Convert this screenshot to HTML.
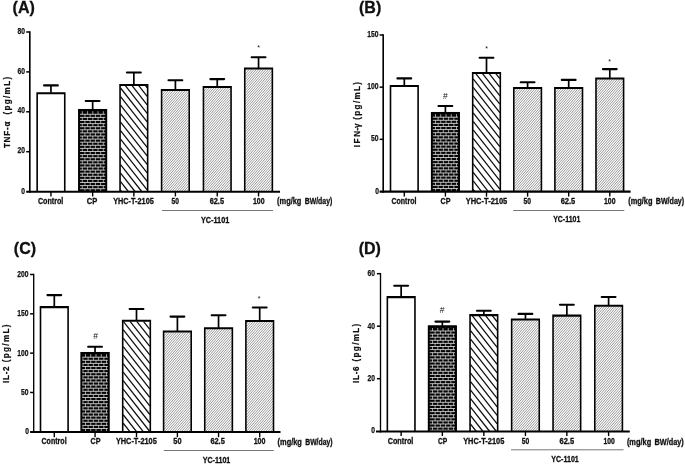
<!DOCTYPE html>
<html><head><meta charset="utf-8"><title>Figure</title>
<style>html,body{margin:0;padding:0;background:#fff;}body{width:685px;height:464px;overflow:hidden;font-family:"Liberation Sans",sans-serif;}svg{display:block;}svg{filter:grayscale(1);}text{font-family:"Liberation Sans",sans-serif;fill:#111;}</style>
</head><body>
<svg width="685" height="464" viewBox="0 0 685 464">
<rect width="685" height="464" fill="#fff"/>
<g id="panelA">
<text x="12.60" y="12.70" font-size="16" font-weight="bold" fill="#000" stroke="#000" stroke-width="0.28">(A)</text>
<path fill-rule="evenodd" fill="#000" d="M36.35 92.17H65.55V191.75H36.35ZM37.95 94.22H63.95V191.75H37.95Z"/>
<path d="M50.95 92.67V85.40" stroke="#000" stroke-width="1.7" fill="none"/>
<path d="M44.05 85.40H57.85" stroke="#000" stroke-width="2.1" fill="none" stroke-linecap="round"/>
<path d="M50.95 191.75V196.45" stroke="#000" stroke-width="1.4"/>
<rect x="78.20" y="108.97" width="28.90" height="82.78" fill="#060606"/>
<path d="M79.80 114.30H105.50M79.80 117.40H105.50M79.80 120.50H105.50M79.80 123.60H105.50M79.80 126.70H105.50M79.80 129.80H105.50M79.80 132.90H105.50M79.80 136.00H105.50M79.80 139.10H105.50M79.80 142.20H105.50M79.80 145.30H105.50M79.80 148.40H105.50M79.80 151.50H105.50M79.80 154.60H105.50M79.80 157.70H105.50M79.80 160.80H105.50M79.80 163.90H105.50M79.80 167.00H105.50M79.80 170.10H105.50M79.80 173.20H105.50M79.80 176.30H105.50M79.80 179.40H105.50M79.80 182.50H105.50M79.80 185.60H105.50M79.80 188.70H105.50" stroke="#fff" stroke-width="0.72" fill="none"/>
<path d="M82.30 111.20V114.30M87.55 111.20V114.30M92.80 111.20V114.30M98.05 111.20V114.30M103.30 111.20V114.30M84.92 114.30V117.40M90.17 114.30V117.40M95.42 114.30V117.40M100.67 114.30V117.40M82.30 117.40V120.50M87.55 117.40V120.50M92.80 117.40V120.50M98.05 117.40V120.50M103.30 117.40V120.50M84.92 120.50V123.60M90.17 120.50V123.60M95.42 120.50V123.60M100.67 120.50V123.60M82.30 123.60V126.70M87.55 123.60V126.70M92.80 123.60V126.70M98.05 123.60V126.70M103.30 123.60V126.70M84.92 126.70V129.80M90.17 126.70V129.80M95.42 126.70V129.80M100.67 126.70V129.80M82.30 129.80V132.90M87.55 129.80V132.90M92.80 129.80V132.90M98.05 129.80V132.90M103.30 129.80V132.90M84.92 132.90V136.00M90.17 132.90V136.00M95.42 132.90V136.00M100.67 132.90V136.00M82.30 136.00V139.10M87.55 136.00V139.10M92.80 136.00V139.10M98.05 136.00V139.10M103.30 136.00V139.10M84.92 139.10V142.20M90.17 139.10V142.20M95.42 139.10V142.20M100.67 139.10V142.20M82.30 142.20V145.30M87.55 142.20V145.30M92.80 142.20V145.30M98.05 142.20V145.30M103.30 142.20V145.30M84.92 145.30V148.40M90.17 145.30V148.40M95.42 145.30V148.40M100.67 145.30V148.40M82.30 148.40V151.50M87.55 148.40V151.50M92.80 148.40V151.50M98.05 148.40V151.50M103.30 148.40V151.50M84.92 151.50V154.60M90.17 151.50V154.60M95.42 151.50V154.60M100.67 151.50V154.60M82.30 154.60V157.70M87.55 154.60V157.70M92.80 154.60V157.70M98.05 154.60V157.70M103.30 154.60V157.70M84.92 157.70V160.80M90.17 157.70V160.80M95.42 157.70V160.80M100.67 157.70V160.80M82.30 160.80V163.90M87.55 160.80V163.90M92.80 160.80V163.90M98.05 160.80V163.90M103.30 160.80V163.90M84.92 163.90V167.00M90.17 163.90V167.00M95.42 163.90V167.00M100.67 163.90V167.00M82.30 167.00V170.10M87.55 167.00V170.10M92.80 167.00V170.10M98.05 167.00V170.10M103.30 167.00V170.10M84.92 170.10V173.20M90.17 170.10V173.20M95.42 170.10V173.20M100.67 170.10V173.20M82.30 173.20V176.30M87.55 173.20V176.30M92.80 173.20V176.30M98.05 173.20V176.30M103.30 173.20V176.30M84.92 176.30V179.40M90.17 176.30V179.40M95.42 176.30V179.40M100.67 176.30V179.40M82.30 179.40V182.50M87.55 179.40V182.50M92.80 179.40V182.50M98.05 179.40V182.50M103.30 179.40V182.50M84.92 182.50V185.60M90.17 182.50V185.60M95.42 182.50V185.60M100.67 182.50V185.60M82.30 185.60V188.70M87.55 185.60V188.70M92.80 185.60V188.70M98.05 185.60V188.70M103.30 185.60V188.70M84.92 188.70V191.75M90.17 188.70V191.75M95.42 188.70V191.75M100.67 188.70V191.75" stroke="#fff" stroke-width="0.6" fill="none"/>
<path fill-rule="evenodd" fill="#000" d="M78.20 108.97H107.10V191.75H78.20ZM79.80 111.02H105.50V191.75H79.80Z"/>
<path d="M92.65 109.47V101.00" stroke="#000" stroke-width="1.7" fill="none"/>
<path d="M85.75 101.00H99.55" stroke="#000" stroke-width="2.1" fill="none" stroke-linecap="round"/>
<path d="M92.65 191.75V196.45" stroke="#000" stroke-width="1.4"/>
<path d="M120.55 190.13L121.82 191.75M120.55 181.62L128.52 191.75M120.55 173.11L135.22 191.75M120.55 164.60L141.92 191.75M120.55 156.10L147.15 189.88M120.55 147.59L147.15 181.37M120.55 139.08L147.15 172.86M120.55 130.57L147.15 164.35M120.55 122.06L147.15 155.84M120.55 113.55L147.15 147.33M120.55 105.04L147.15 138.82M120.55 96.53L147.15 130.31M120.55 88.02L147.15 121.81M125.36 85.62L147.15 113.30M132.06 85.62L147.15 104.79M138.76 85.62L147.15 96.28M145.46 85.62L147.15 87.77" stroke="#111" stroke-width="1.28" fill="none"/>
<path fill-rule="evenodd" fill="#000" d="M119.25 83.88H148.45V191.75H119.25ZM120.85 85.92H146.85V191.75H120.85Z"/>
<path d="M133.85 84.38V72.50" stroke="#000" stroke-width="1.7" fill="none"/>
<path d="M126.95 72.50H140.75" stroke="#000" stroke-width="2.1" fill="none" stroke-linecap="round"/>
<path d="M133.85 191.75V196.45" stroke="#000" stroke-width="1.4"/>
<rect x="161.30" y="89.47" width="28.20" height="102.28" fill="#ffffff"/>
<path d="M162.10 92.34L163.51 90.72M162.10 95.10L165.91 90.72M162.10 97.86L168.31 90.72M162.10 100.62L170.71 90.72M162.10 103.38L173.11 90.72M162.10 106.14L175.51 90.72M162.10 108.91L177.91 90.72M162.10 111.66L180.31 90.72M162.10 114.42L182.71 90.72M162.10 117.19L185.11 90.72M162.10 119.94L187.51 90.72M162.10 122.71L188.70 92.11M162.10 125.46L188.70 94.87M162.10 128.22L188.70 97.63M162.10 130.98L188.70 100.39M162.10 133.74L188.70 103.15M162.10 136.50L188.70 105.91M162.10 139.26L188.70 108.67M162.10 142.02L188.70 111.43M162.10 144.78L188.70 114.19M162.10 147.54L188.70 116.95M162.10 150.31L188.70 119.71M162.10 153.06L188.70 122.47M162.10 155.82L188.70 125.23M162.10 158.58L188.70 127.99M162.10 161.34L188.70 130.75M162.10 164.11L188.70 133.51M162.10 166.86L188.70 136.27M162.10 169.62L188.70 139.03M162.10 172.38L188.70 141.79M162.10 175.14L188.70 144.55M162.10 177.91L188.70 147.31M162.10 180.66L188.70 150.07M162.10 183.42L188.70 152.83M162.10 186.19L188.70 155.59M162.10 188.94L188.70 158.35M162.10 191.71L188.70 161.11M164.46 191.75L188.70 163.87M166.86 191.75L188.70 166.63M169.26 191.75L188.70 169.39M171.66 191.75L188.70 172.15M174.06 191.75L188.70 174.91M176.46 191.75L188.70 177.67M178.86 191.75L188.70 180.43M181.26 191.75L188.70 183.19M183.66 191.75L188.70 185.95M186.06 191.75L188.70 188.71M188.46 191.75L188.70 191.47" stroke="#484848" stroke-width="0.56" fill="none"/>
<path fill-rule="evenodd" fill="#000" d="M160.80 88.97H190.00V191.75H160.80ZM162.40 91.02H188.40V191.75H162.40Z"/>
<path d="M175.40 89.47V80.30" stroke="#000" stroke-width="1.7" fill="none"/>
<path d="M168.50 80.30H182.30" stroke="#000" stroke-width="2.1" fill="none" stroke-linecap="round"/>
<path d="M175.40 191.75V196.45" stroke="#000" stroke-width="1.4"/>
<rect x="203.15" y="86.47" width="28.20" height="105.28" fill="#ffffff"/>
<path d="M203.95 88.38L204.52 87.72M203.95 91.14L206.92 87.72M203.95 93.90L209.32 87.72M203.95 96.66L211.72 87.72M203.95 99.42L214.12 87.72M203.95 102.18L216.52 87.72M203.95 104.94L218.92 87.72M203.95 107.70L221.32 87.72M203.95 110.46L223.72 87.72M203.95 113.22L226.12 87.72M203.95 115.98L228.52 87.72M203.95 118.74L230.55 88.15M203.95 121.50L230.55 90.91M203.95 124.26L230.55 93.67M203.95 127.02L230.55 96.43M203.95 129.78L230.55 99.19M203.95 132.54L230.55 101.95M203.95 135.30L230.55 104.71M203.95 138.06L230.55 107.47M203.95 140.82L230.55 110.23M203.95 143.58L230.55 112.99M203.95 146.34L230.55 115.75M203.95 149.10L230.55 118.51M203.95 151.86L230.55 121.27M203.95 154.62L230.55 124.03M203.95 157.38L230.55 126.79M203.95 160.14L230.55 129.55M203.95 162.90L230.55 132.31M203.95 165.66L230.55 135.07M203.95 168.42L230.55 137.83M203.95 171.18L230.55 140.59M203.95 173.94L230.55 143.35M203.95 176.70L230.55 146.11M203.95 179.46L230.55 148.87M203.95 182.22L230.55 151.63M203.95 184.98L230.55 154.39M203.95 187.74L230.55 157.15M203.95 190.50L230.55 159.91M205.26 191.75L230.55 162.67M207.66 191.75L230.55 165.43M210.06 191.75L230.55 168.19M212.46 191.75L230.55 170.95M214.86 191.75L230.55 173.71M217.26 191.75L230.55 176.47M219.66 191.75L230.55 179.23M222.06 191.75L230.55 181.99M224.46 191.75L230.55 184.75M226.86 191.75L230.55 187.51M229.26 191.75L230.55 190.27" stroke="#484848" stroke-width="0.56" fill="none"/>
<path fill-rule="evenodd" fill="#000" d="M202.65 85.97H231.85V191.75H202.65ZM204.25 88.02H230.25V191.75H204.25Z"/>
<path d="M217.25 86.47V79.10" stroke="#000" stroke-width="1.7" fill="none"/>
<path d="M210.35 79.10H224.15" stroke="#000" stroke-width="2.1" fill="none" stroke-linecap="round"/>
<path d="M217.25 191.75V196.45" stroke="#000" stroke-width="1.4"/>
<rect x="244.45" y="68.07" width="28.20" height="123.68" fill="#ffffff"/>
<path d="M245.25 71.24L246.92 69.32M245.25 74.00L249.32 69.32M245.25 76.76L251.72 69.32M245.25 79.52L254.12 69.32M245.25 82.28L256.52 69.32M245.25 85.04L258.92 69.32M245.25 87.80L261.32 69.32M245.25 90.56L263.72 69.32M245.25 93.32L266.12 69.32M245.25 96.08L268.52 69.32M245.25 98.84L270.92 69.32M245.25 101.60L271.85 71.01M245.25 104.36L271.85 73.77M245.25 107.12L271.85 76.53M245.25 109.88L271.85 79.29M245.25 112.64L271.85 82.05M245.25 115.40L271.85 84.81M245.25 118.16L271.85 87.57M245.25 120.92L271.85 90.33M245.25 123.68L271.85 93.09M245.25 126.44L271.85 95.85M245.25 129.20L271.85 98.61M245.25 131.96L271.85 101.37M245.25 134.72L271.85 104.13M245.25 137.48L271.85 106.89M245.25 140.24L271.85 109.65M245.25 143.00L271.85 112.41M245.25 145.76L271.85 115.17M245.25 148.52L271.85 117.93M245.25 151.28L271.85 120.69M245.25 154.04L271.85 123.45M245.25 156.80L271.85 126.21M245.25 159.56L271.85 128.97M245.25 162.32L271.85 131.73M245.25 165.08L271.85 134.49M245.25 167.84L271.85 137.25M245.25 170.60L271.85 140.01M245.25 173.36L271.85 142.77M245.25 176.12L271.85 145.53M245.25 178.88L271.85 148.29M245.25 181.64L271.85 151.05M245.25 184.40L271.85 153.81M245.25 187.16L271.85 156.57M245.25 189.92L271.85 159.33M246.06 191.75L271.85 162.09M248.46 191.75L271.85 164.85M250.86 191.75L271.85 167.61M253.26 191.75L271.85 170.37M255.66 191.75L271.85 173.13M258.06 191.75L271.85 175.89M260.46 191.75L271.85 178.65M262.86 191.75L271.85 181.41M265.26 191.75L271.85 184.17M267.66 191.75L271.85 186.93M270.06 191.75L271.85 189.69" stroke="#484848" stroke-width="0.56" fill="none"/>
<path fill-rule="evenodd" fill="#000" d="M243.95 67.57H273.15V191.75H243.95ZM245.55 69.62H271.55V191.75H245.55Z"/>
<path d="M258.55 68.07V57.30" stroke="#000" stroke-width="1.7" fill="none"/>
<path d="M251.65 57.30H265.45" stroke="#000" stroke-width="2.1" fill="none" stroke-linecap="round"/>
<path d="M258.55 191.75V196.45" stroke="#000" stroke-width="1.4"/>
<path d="M29.80 31.25V192.80" stroke="#000" stroke-width="1.65" fill="none"/>
<path d="M26.20 191.75H280.00" stroke="#000" stroke-width="2.10" fill="none"/>
<text x="21.15" y="194.10" font-size="8.80" font-weight="bold" textLength="3.75" lengthAdjust="spacingAndGlyphs" stroke="#111" stroke-width="0.25">0</text>
<path d="M26.20 151.70H29.80" stroke="#000" stroke-width="1.5"/>
<text x="17.50" y="153.30" font-size="8.80" font-weight="bold" textLength="7.50" lengthAdjust="spacingAndGlyphs" stroke="#111" stroke-width="0.25">20</text>
<path d="M26.20 111.80H29.80" stroke="#000" stroke-width="1.5"/>
<text x="17.50" y="113.40" font-size="8.80" font-weight="bold" textLength="7.50" lengthAdjust="spacingAndGlyphs" stroke="#111" stroke-width="0.25">40</text>
<path d="M26.20 71.90H29.80" stroke="#000" stroke-width="1.5"/>
<text x="17.50" y="73.50" font-size="8.80" font-weight="bold" textLength="7.50" lengthAdjust="spacingAndGlyphs" stroke="#111" stroke-width="0.25">60</text>
<path d="M26.20 32.00H29.80" stroke="#000" stroke-width="1.5"/>
<text x="17.50" y="33.60" font-size="8.80" font-weight="bold" textLength="7.50" lengthAdjust="spacingAndGlyphs" stroke="#111" stroke-width="0.25">80</text>
<text x="37.90" y="204.20" font-size="8.30" font-weight="bold" textLength="25.40" lengthAdjust="spacingAndGlyphs" stroke="#111" stroke-width="0.3">Control</text>
<text x="86.70" y="204.20" font-size="8.30" font-weight="bold" textLength="10.50" lengthAdjust="spacingAndGlyphs" stroke="#111" stroke-width="0.3">CP</text>
<text x="113.20" y="204.20" font-size="8.30" font-weight="bold" textLength="40.60" lengthAdjust="spacingAndGlyphs" stroke="#111" stroke-width="0.3">YHC-T-2105</text>
<text x="171.60" y="204.20" font-size="8.30" font-weight="bold" textLength="7.40" lengthAdjust="spacingAndGlyphs" stroke="#111" stroke-width="0.3">50</text>
<text x="209.70" y="204.20" font-size="8.30" font-weight="bold" textLength="14.30" lengthAdjust="spacingAndGlyphs" stroke="#111" stroke-width="0.3">62.5</text>
<text x="252.90" y="204.20" font-size="8.30" font-weight="bold" textLength="11.60" lengthAdjust="spacingAndGlyphs" stroke="#111" stroke-width="0.3">100</text>
<text x="277.10" y="204.40" font-size="8.30" font-weight="bold" textLength="24.30" lengthAdjust="spacingAndGlyphs" stroke="#111" stroke-width="0.3">(mg/kg</text>
<text x="304.70" y="204.40" font-size="8.30" font-weight="bold" textLength="27.60" lengthAdjust="spacingAndGlyphs" stroke="#111" stroke-width="0.3">BW/day)</text>
<path d="M162.00 210.50H273.00" stroke="#777" stroke-width="1"/>
<text x="200.90" y="222.70" font-size="8.30" font-weight="bold" textLength="28.40" lengthAdjust="spacingAndGlyphs" stroke="#111" stroke-width="0.3">YC-1101</text>
<text x="258.70" y="49.60" font-size="7" text-anchor="middle" fill="#333">*</text>
<text transform="translate(9.80 148.10) rotate(-90) scale(1,1.14)" font-size="8.1" font-weight="bold" textLength="26.50" lengthAdjust="spacing" stroke="#111" stroke-width="0.2">TNF-α</text>
<text transform="translate(9.80 114.50) rotate(-90) scale(1,1.14)" font-size="8.1" font-weight="bold" textLength="37.60" lengthAdjust="spacing" stroke="#111" stroke-width="0.2">(pg/mL)</text>
</g>
<g id="panelB">
<text x="359.00" y="12.70" font-size="16" font-weight="bold" fill="#000" stroke="#000" stroke-width="0.28">(B)</text>
<path fill-rule="evenodd" fill="#000" d="M389.70 84.88H418.90V191.65H389.70ZM391.30 86.92H417.30V191.65H391.30Z"/>
<path d="M404.30 85.38V78.40" stroke="#000" stroke-width="1.7" fill="none"/>
<path d="M397.40 78.40H411.20" stroke="#000" stroke-width="2.1" fill="none" stroke-linecap="round"/>
<path d="M404.30 191.65V196.60" stroke="#000" stroke-width="1.4"/>
<rect x="430.95" y="111.97" width="28.90" height="79.68" fill="#060606"/>
<path d="M432.55 117.20H458.25M432.55 120.30H458.25M432.55 123.40H458.25M432.55 126.50H458.25M432.55 129.60H458.25M432.55 132.70H458.25M432.55 135.80H458.25M432.55 138.90H458.25M432.55 142.00H458.25M432.55 145.10H458.25M432.55 148.20H458.25M432.55 151.30H458.25M432.55 154.40H458.25M432.55 157.50H458.25M432.55 160.60H458.25M432.55 163.70H458.25M432.55 166.80H458.25M432.55 169.90H458.25M432.55 173.00H458.25M432.55 176.10H458.25M432.55 179.20H458.25M432.55 182.30H458.25M432.55 185.40H458.25M432.55 188.50H458.25" stroke="#fff" stroke-width="0.72" fill="none"/>
<path d="M435.50 114.10V117.20M440.75 114.10V117.20M446.00 114.10V117.20M451.25 114.10V117.20M456.50 114.10V117.20M438.12 117.20V120.30M443.38 117.20V120.30M448.62 117.20V120.30M453.88 117.20V120.30M435.50 120.30V123.40M440.75 120.30V123.40M446.00 120.30V123.40M451.25 120.30V123.40M456.50 120.30V123.40M438.12 123.40V126.50M443.38 123.40V126.50M448.62 123.40V126.50M453.88 123.40V126.50M435.50 126.50V129.60M440.75 126.50V129.60M446.00 126.50V129.60M451.25 126.50V129.60M456.50 126.50V129.60M438.12 129.60V132.70M443.38 129.60V132.70M448.62 129.60V132.70M453.88 129.60V132.70M435.50 132.70V135.80M440.75 132.70V135.80M446.00 132.70V135.80M451.25 132.70V135.80M456.50 132.70V135.80M438.12 135.80V138.90M443.38 135.80V138.90M448.62 135.80V138.90M453.88 135.80V138.90M435.50 138.90V142.00M440.75 138.90V142.00M446.00 138.90V142.00M451.25 138.90V142.00M456.50 138.90V142.00M438.12 142.00V145.10M443.38 142.00V145.10M448.62 142.00V145.10M453.88 142.00V145.10M435.50 145.10V148.20M440.75 145.10V148.20M446.00 145.10V148.20M451.25 145.10V148.20M456.50 145.10V148.20M438.12 148.20V151.30M443.38 148.20V151.30M448.62 148.20V151.30M453.88 148.20V151.30M435.50 151.30V154.40M440.75 151.30V154.40M446.00 151.30V154.40M451.25 151.30V154.40M456.50 151.30V154.40M438.12 154.40V157.50M443.38 154.40V157.50M448.62 154.40V157.50M453.88 154.40V157.50M435.50 157.50V160.60M440.75 157.50V160.60M446.00 157.50V160.60M451.25 157.50V160.60M456.50 157.50V160.60M438.12 160.60V163.70M443.38 160.60V163.70M448.62 160.60V163.70M453.88 160.60V163.70M435.50 163.70V166.80M440.75 163.70V166.80M446.00 163.70V166.80M451.25 163.70V166.80M456.50 163.70V166.80M438.12 166.80V169.90M443.38 166.80V169.90M448.62 166.80V169.90M453.88 166.80V169.90M435.50 169.90V173.00M440.75 169.90V173.00M446.00 169.90V173.00M451.25 169.90V173.00M456.50 169.90V173.00M438.12 173.00V176.10M443.38 173.00V176.10M448.62 173.00V176.10M453.88 173.00V176.10M435.50 176.10V179.20M440.75 176.10V179.20M446.00 176.10V179.20M451.25 176.10V179.20M456.50 176.10V179.20M438.12 179.20V182.30M443.38 179.20V182.30M448.62 179.20V182.30M453.88 179.20V182.30M435.50 182.30V185.40M440.75 182.30V185.40M446.00 182.30V185.40M451.25 182.30V185.40M456.50 182.30V185.40M438.12 185.40V188.50M443.38 185.40V188.50M448.62 185.40V188.50M453.88 185.40V188.50M435.50 188.50V191.60M440.75 188.50V191.60M446.00 188.50V191.60M451.25 188.50V191.60M456.50 188.50V191.60" stroke="#fff" stroke-width="0.6" fill="none"/>
<path fill-rule="evenodd" fill="#000" d="M430.95 111.97H459.85V191.65H430.95ZM432.55 114.02H458.25V191.65H432.55Z"/>
<path d="M445.40 112.47V106.00" stroke="#000" stroke-width="1.7" fill="none"/>
<path d="M438.50 106.00H452.30" stroke="#000" stroke-width="2.1" fill="none" stroke-linecap="round"/>
<path d="M445.40 191.65V196.60" stroke="#000" stroke-width="1.4"/>
<path d="M473.20 189.43L474.95 191.65M473.20 180.92L481.65 191.65M473.20 172.42L488.35 191.65M473.20 163.91L495.05 191.65M473.20 155.40L499.80 189.18M473.20 146.89L499.80 180.67M473.20 138.38L499.80 172.16M473.20 129.87L499.80 163.65M473.20 121.36L499.80 155.14M473.20 112.85L499.80 146.63M473.20 104.34L499.80 138.13M473.20 95.83L499.80 129.62M473.20 87.33L499.80 121.11M473.20 78.82L499.80 112.60M475.81 73.62L499.80 104.09M482.51 73.62L499.80 95.58M489.21 73.62L499.80 87.07M495.91 73.62L499.80 78.56" stroke="#111" stroke-width="1.28" fill="none"/>
<path fill-rule="evenodd" fill="#000" d="M471.90 71.88H501.10V191.65H471.90ZM473.50 73.92H499.50V191.65H473.50Z"/>
<path d="M486.50 72.38V57.80" stroke="#000" stroke-width="1.7" fill="none"/>
<path d="M479.60 57.80H493.40" stroke="#000" stroke-width="2.1" fill="none" stroke-linecap="round"/>
<path d="M486.50 191.65V196.60" stroke="#000" stroke-width="1.4"/>
<rect x="513.50" y="87.38" width="28.20" height="104.28" fill="#ffffff"/>
<path d="M514.30 90.27L515.73 88.62M514.30 93.03L518.13 88.62M514.30 95.79L520.53 88.62M514.30 98.55L522.93 88.62M514.30 101.31L525.33 88.62M514.30 104.07L527.73 88.62M514.30 106.83L530.13 88.62M514.30 109.59L532.53 88.62M514.30 112.35L534.93 88.62M514.30 115.11L537.33 88.62M514.30 117.87L539.73 88.62M514.30 120.63L540.90 90.04M514.30 123.39L540.90 92.81M514.30 126.15L540.90 95.57M514.30 128.91L540.90 98.32M514.30 131.67L540.90 101.08M514.30 134.43L540.90 103.84M514.30 137.19L540.90 106.61M514.30 139.95L540.90 109.37M514.30 142.71L540.90 112.12M514.30 145.47L540.90 114.88M514.30 148.23L540.90 117.64M514.30 150.99L540.90 120.41M514.30 153.75L540.90 123.17M514.30 156.51L540.90 125.92M514.30 159.27L540.90 128.68M514.30 162.03L540.90 131.44M514.30 164.79L540.90 134.21M514.30 167.55L540.90 136.97M514.30 170.31L540.90 139.72M514.30 173.07L540.90 142.48M514.30 175.83L540.90 145.24M514.30 178.59L540.90 148.01M514.30 181.35L540.90 150.77M514.30 184.11L540.90 153.52M514.30 186.87L540.90 156.28M514.30 189.63L540.90 159.04M514.95 191.65L540.90 161.81M517.35 191.65L540.90 164.56M519.75 191.65L540.90 167.32M522.15 191.65L540.90 170.08M524.55 191.65L540.90 172.84M526.95 191.65L540.90 175.61M529.35 191.65L540.90 178.37M531.75 191.65L540.90 181.12M534.15 191.65L540.90 183.88M536.55 191.65L540.90 186.64M538.95 191.65L540.90 189.41" stroke="#484848" stroke-width="0.56" fill="none"/>
<path fill-rule="evenodd" fill="#000" d="M513.00 86.88H542.20V191.65H513.00ZM514.60 88.92H540.60V191.65H514.60Z"/>
<path d="M527.60 87.38V82.20" stroke="#000" stroke-width="1.7" fill="none"/>
<path d="M520.70 82.20H534.50" stroke="#000" stroke-width="2.1" fill="none" stroke-linecap="round"/>
<path d="M527.60 191.65V196.60" stroke="#000" stroke-width="1.4"/>
<rect x="554.60" y="87.38" width="28.20" height="104.28" fill="#ffffff"/>
<path d="M555.40 89.93L556.53 88.62M555.40 92.69L558.93 88.62M555.40 95.45L561.33 88.62M555.40 98.21L563.73 88.62M555.40 100.97L566.13 88.62M555.40 103.73L568.53 88.62M555.40 106.49L570.93 88.62M555.40 109.25L573.33 88.62M555.40 112.01L575.73 88.62M555.40 114.77L578.13 88.62M555.40 117.53L580.53 88.62M555.40 120.29L582.00 89.70M555.40 123.05L582.00 92.46M555.40 125.81L582.00 95.22M555.40 128.57L582.00 97.98M555.40 131.33L582.00 100.74M555.40 134.09L582.00 103.50M555.40 136.85L582.00 106.26M555.40 139.61L582.00 109.02M555.40 142.37L582.00 111.78M555.40 145.13L582.00 114.54M555.40 147.89L582.00 117.30M555.40 150.65L582.00 120.06M555.40 153.41L582.00 122.82M555.40 156.17L582.00 125.58M555.40 158.93L582.00 128.34M555.40 161.69L582.00 131.10M555.40 164.45L582.00 133.86M555.40 167.21L582.00 136.62M555.40 169.97L582.00 139.38M555.40 172.73L582.00 142.14M555.40 175.49L582.00 144.90M555.40 178.25L582.00 147.66M555.40 181.01L582.00 150.42M555.40 183.77L582.00 153.18M555.40 186.53L582.00 155.94M555.40 189.29L582.00 158.70M555.75 191.65L582.00 161.46M558.15 191.65L582.00 164.22M560.55 191.65L582.00 166.98M562.95 191.65L582.00 169.74M565.35 191.65L582.00 172.50M567.75 191.65L582.00 175.26M570.15 191.65L582.00 178.02M572.55 191.65L582.00 180.78M574.95 191.65L582.00 183.54M577.35 191.65L582.00 186.30M579.75 191.65L582.00 189.06" stroke="#484848" stroke-width="0.56" fill="none"/>
<path fill-rule="evenodd" fill="#000" d="M554.10 86.88H583.30V191.65H554.10ZM555.70 88.92H581.70V191.65H555.70Z"/>
<path d="M568.70 87.38V79.90" stroke="#000" stroke-width="1.7" fill="none"/>
<path d="M561.80 79.90H575.60" stroke="#000" stroke-width="2.1" fill="none" stroke-linecap="round"/>
<path d="M568.70 191.65V196.60" stroke="#000" stroke-width="1.4"/>
<rect x="595.70" y="77.88" width="28.20" height="113.78" fill="#ffffff"/>
<path d="M596.50 81.30L598.40 79.12M596.50 84.07L600.80 79.12M596.50 86.82L603.20 79.12M596.50 89.58L605.60 79.12M596.50 92.34L608.00 79.12M596.50 95.10L610.40 79.12M596.50 97.87L612.80 79.12M596.50 100.62L615.20 79.12M596.50 103.38L617.60 79.12M596.50 106.14L620.00 79.12M596.50 108.90L622.40 79.12M596.50 111.67L623.10 81.08M596.50 114.42L623.10 83.84M596.50 117.18L623.10 86.60M596.50 119.94L623.10 89.36M596.50 122.70L623.10 92.12M596.50 125.47L623.10 94.88M596.50 128.22L623.10 97.64M596.50 130.98L623.10 100.40M596.50 133.74L623.10 103.16M596.50 136.50L623.10 105.92M596.50 139.27L623.10 108.68M596.50 142.02L623.10 111.44M596.50 144.78L623.10 114.20M596.50 147.54L623.10 116.96M596.50 150.30L623.10 119.72M596.50 153.06L623.10 122.48M596.50 155.82L623.10 125.24M596.50 158.58L623.10 128.00M596.50 161.34L623.10 130.76M596.50 164.10L623.10 133.52M596.50 166.87L623.10 136.28M596.50 169.62L623.10 139.04M596.50 172.38L623.10 141.80M596.50 175.14L623.10 144.56M596.50 177.90L623.10 147.31M596.50 180.67L623.10 150.08M596.50 183.42L623.10 152.84M596.50 186.18L623.10 155.60M596.50 188.94L623.10 158.36M596.55 191.65L623.10 161.12M598.95 191.65L623.10 163.88M601.35 191.65L623.10 166.64M603.75 191.65L623.10 169.40M606.15 191.65L623.10 172.16M608.55 191.65L623.10 174.92M610.95 191.65L623.10 177.68M613.35 191.65L623.10 180.44M615.75 191.65L623.10 183.20M618.15 191.65L623.10 185.96M620.55 191.65L623.10 188.72M622.95 191.65L623.10 191.48" stroke="#484848" stroke-width="0.56" fill="none"/>
<path fill-rule="evenodd" fill="#000" d="M595.20 77.38H624.40V191.65H595.20ZM596.80 79.42H622.80V191.65H596.80Z"/>
<path d="M609.80 77.88V69.10" stroke="#000" stroke-width="1.7" fill="none"/>
<path d="M602.90 69.10H616.70" stroke="#000" stroke-width="2.1" fill="none" stroke-linecap="round"/>
<path d="M609.80 191.65V196.60" stroke="#000" stroke-width="1.4"/>
<path d="M383.20 34.25V192.70" stroke="#000" stroke-width="1.65" fill="none"/>
<path d="M379.60 191.65H630.60" stroke="#000" stroke-width="2.10" fill="none"/>
<text x="375.25" y="194.40" font-size="8.80" font-weight="bold" textLength="3.75" lengthAdjust="spacingAndGlyphs" stroke="#111" stroke-width="0.25">0</text>
<path d="M379.60 139.33H383.20" stroke="#000" stroke-width="1.5"/>
<text x="371.10" y="140.93" font-size="8.80" font-weight="bold" textLength="7.50" lengthAdjust="spacingAndGlyphs" stroke="#111" stroke-width="0.25">50</text>
<path d="M379.60 87.17H383.20" stroke="#000" stroke-width="1.5"/>
<text x="367.35" y="88.77" font-size="8.80" font-weight="bold" textLength="11.25" lengthAdjust="spacingAndGlyphs" stroke="#111" stroke-width="0.25">100</text>
<path d="M379.60 35.00H383.20" stroke="#000" stroke-width="1.5"/>
<text x="367.35" y="36.60" font-size="8.80" font-weight="bold" textLength="11.25" lengthAdjust="spacingAndGlyphs" stroke="#111" stroke-width="0.25">150</text>
<text x="391.50" y="204.10" font-size="8.30" font-weight="bold" textLength="24.90" lengthAdjust="spacingAndGlyphs" stroke="#111" stroke-width="0.3">Control</text>
<text x="440.50" y="204.10" font-size="8.30" font-weight="bold" textLength="10.00" lengthAdjust="spacingAndGlyphs" stroke="#111" stroke-width="0.3">CP</text>
<text x="465.70" y="204.10" font-size="8.30" font-weight="bold" textLength="41.60" lengthAdjust="spacingAndGlyphs" stroke="#111" stroke-width="0.3">YHC-T-2105</text>
<text x="523.60" y="204.10" font-size="8.30" font-weight="bold" textLength="7.50" lengthAdjust="spacingAndGlyphs" stroke="#111" stroke-width="0.3">50</text>
<text x="560.70" y="204.10" font-size="8.30" font-weight="bold" textLength="14.60" lengthAdjust="spacingAndGlyphs" stroke="#111" stroke-width="0.3">62.5</text>
<text x="604.00" y="204.10" font-size="8.30" font-weight="bold" textLength="11.50" lengthAdjust="spacingAndGlyphs" stroke="#111" stroke-width="0.3">100</text>
<text x="628.20" y="204.30" font-size="8.30" font-weight="bold" textLength="24.30" lengthAdjust="spacingAndGlyphs" stroke="#111" stroke-width="0.3">(mg/kg</text>
<text x="655.80" y="204.30" font-size="8.30" font-weight="bold" textLength="28.40" lengthAdjust="spacingAndGlyphs" stroke="#111" stroke-width="0.3">BW/day)</text>
<path d="M513.20 210.50H624.30" stroke="#777" stroke-width="1"/>
<text x="553.20" y="222.30" font-size="8.30" font-weight="bold" textLength="27.10" lengthAdjust="spacingAndGlyphs" stroke="#111" stroke-width="0.3">YC-1101</text>
<text x="445.30" y="98.50" font-size="8.5" text-anchor="middle" fill="#2a2a2a">#</text>
<text x="486.70" y="51.10" font-size="7" text-anchor="middle" fill="#333">*</text>
<text x="609.70" y="64.20" font-size="7" text-anchor="middle" fill="#333">*</text>
<text transform="translate(359.60 147.20) rotate(-90) scale(1,1.14)" font-size="8.1" font-weight="bold" textLength="16.20" lengthAdjust="spacing" stroke="#111" stroke-width="0.2">IFN</text>
<text transform="translate(359.60 130.60) rotate(-90) scale(1,1.14)" font-size="8.1" font-weight="bold" textLength="7.20" lengthAdjust="spacing" stroke="#111" stroke-width="0.2">-γ</text>
<text transform="translate(359.60 119.70) rotate(-90) scale(1,1.14)" font-size="8.1" font-weight="bold" textLength="37.70" lengthAdjust="spacing" stroke="#111" stroke-width="0.2">(pg/mL)</text>
</g>
<g id="panelC">
<text x="13.80" y="253.60" font-size="16" font-weight="bold" fill="#000" stroke="#000" stroke-width="0.28">(C)</text>
<path fill-rule="evenodd" fill="#000" d="M39.70 306.08H68.90V431.95H39.70ZM41.30 308.13H67.30V431.95H41.30Z"/>
<path d="M54.30 306.58V295.10" stroke="#000" stroke-width="1.7" fill="none"/>
<path d="M47.40 295.10H61.20" stroke="#000" stroke-width="2.1" fill="none" stroke-linecap="round"/>
<path d="M54.30 431.95V437.20" stroke="#000" stroke-width="1.4"/>
<rect x="80.60" y="351.98" width="28.90" height="79.97" fill="#060606"/>
<path d="M82.20 357.20H107.90M82.20 360.30H107.90M82.20 363.40H107.90M82.20 366.50H107.90M82.20 369.60H107.90M82.20 372.70H107.90M82.20 375.80H107.90M82.20 378.90H107.90M82.20 382.00H107.90M82.20 385.10H107.90M82.20 388.20H107.90M82.20 391.30H107.90M82.20 394.40H107.90M82.20 397.50H107.90M82.20 400.60H107.90M82.20 403.70H107.90M82.20 406.80H107.90M82.20 409.90H107.90M82.20 413.00H107.90M82.20 416.10H107.90M82.20 419.20H107.90M82.20 422.30H107.90M82.20 425.40H107.90M82.20 428.50H107.90M82.20 431.60H107.90" stroke="#fff" stroke-width="0.72" fill="none"/>
<path d="M85.50 354.10V357.20M90.75 354.10V357.20M96.00 354.10V357.20M101.25 354.10V357.20M106.50 354.10V357.20M82.88 357.20V360.30M88.12 357.20V360.30M93.38 357.20V360.30M98.62 357.20V360.30M103.88 357.20V360.30M85.50 360.30V363.40M90.75 360.30V363.40M96.00 360.30V363.40M101.25 360.30V363.40M106.50 360.30V363.40M82.88 363.40V366.50M88.12 363.40V366.50M93.38 363.40V366.50M98.62 363.40V366.50M103.88 363.40V366.50M85.50 366.50V369.60M90.75 366.50V369.60M96.00 366.50V369.60M101.25 366.50V369.60M106.50 366.50V369.60M82.88 369.60V372.70M88.12 369.60V372.70M93.38 369.60V372.70M98.62 369.60V372.70M103.88 369.60V372.70M85.50 372.70V375.80M90.75 372.70V375.80M96.00 372.70V375.80M101.25 372.70V375.80M106.50 372.70V375.80M82.88 375.80V378.90M88.12 375.80V378.90M93.38 375.80V378.90M98.62 375.80V378.90M103.88 375.80V378.90M85.50 378.90V382.00M90.75 378.90V382.00M96.00 378.90V382.00M101.25 378.90V382.00M106.50 378.90V382.00M82.88 382.00V385.10M88.12 382.00V385.10M93.38 382.00V385.10M98.62 382.00V385.10M103.88 382.00V385.10M85.50 385.10V388.20M90.75 385.10V388.20M96.00 385.10V388.20M101.25 385.10V388.20M106.50 385.10V388.20M82.88 388.20V391.30M88.12 388.20V391.30M93.38 388.20V391.30M98.62 388.20V391.30M103.88 388.20V391.30M85.50 391.30V394.40M90.75 391.30V394.40M96.00 391.30V394.40M101.25 391.30V394.40M106.50 391.30V394.40M82.88 394.40V397.50M88.12 394.40V397.50M93.38 394.40V397.50M98.62 394.40V397.50M103.88 394.40V397.50M85.50 397.50V400.60M90.75 397.50V400.60M96.00 397.50V400.60M101.25 397.50V400.60M106.50 397.50V400.60M82.88 400.60V403.70M88.12 400.60V403.70M93.38 400.60V403.70M98.62 400.60V403.70M103.88 400.60V403.70M85.50 403.70V406.80M90.75 403.70V406.80M96.00 403.70V406.80M101.25 403.70V406.80M106.50 403.70V406.80M82.88 406.80V409.90M88.12 406.80V409.90M93.38 406.80V409.90M98.62 406.80V409.90M103.88 406.80V409.90M85.50 409.90V413.00M90.75 409.90V413.00M96.00 409.90V413.00M101.25 409.90V413.00M106.50 409.90V413.00M82.88 413.00V416.10M88.12 413.00V416.10M93.38 413.00V416.10M98.62 413.00V416.10M103.88 413.00V416.10M85.50 416.10V419.20M90.75 416.10V419.20M96.00 416.10V419.20M101.25 416.10V419.20M106.50 416.10V419.20M82.88 419.20V422.30M88.12 419.20V422.30M93.38 419.20V422.30M98.62 419.20V422.30M103.88 419.20V422.30M85.50 422.30V425.40M90.75 422.30V425.40M96.00 422.30V425.40M101.25 422.30V425.40M106.50 422.30V425.40M82.88 425.40V428.50M88.12 425.40V428.50M93.38 425.40V428.50M98.62 425.40V428.50M103.88 425.40V428.50M85.50 428.50V431.60M90.75 428.50V431.60M96.00 428.50V431.60M101.25 428.50V431.60M106.50 428.50V431.60M82.88 431.60V431.95M88.12 431.60V431.95M93.38 431.60V431.95M98.62 431.60V431.95M103.88 431.60V431.95" stroke="#fff" stroke-width="0.6" fill="none"/>
<path fill-rule="evenodd" fill="#000" d="M80.60 351.98H109.50V431.95H80.60ZM82.20 354.03H107.90V431.95H82.20Z"/>
<path d="M95.05 352.48V346.80" stroke="#000" stroke-width="1.7" fill="none"/>
<path d="M88.15 346.80H101.95" stroke="#000" stroke-width="2.1" fill="none" stroke-linecap="round"/>
<path d="M95.05 431.95V437.20" stroke="#000" stroke-width="1.4"/>
<path d="M123.20 431.75L123.36 431.95M123.20 423.24L130.06 431.95M123.20 414.73L136.76 431.95M123.20 406.22L143.46 431.95M123.20 397.71L149.80 431.50M123.20 389.20L149.80 422.99M123.20 380.70L149.80 414.48M123.20 372.19L149.80 405.97M123.20 363.68L149.80 397.46M123.20 355.17L149.80 388.95M123.20 346.66L149.80 380.44M123.20 338.15L149.80 371.93M123.20 329.64L149.80 363.42M123.51 321.53L149.80 354.91M130.21 321.53L149.80 346.41M136.91 321.53L149.80 337.90M143.61 321.53L149.80 329.39" stroke="#111" stroke-width="1.28" fill="none"/>
<path fill-rule="evenodd" fill="#000" d="M121.90 319.78H151.10V431.95H121.90ZM123.50 321.83H149.50V431.95H123.50Z"/>
<path d="M136.50 320.28V309.00" stroke="#000" stroke-width="1.7" fill="none"/>
<path d="M129.60 309.00H143.40" stroke="#000" stroke-width="2.1" fill="none" stroke-linecap="round"/>
<path d="M136.50 431.95V437.20" stroke="#000" stroke-width="1.4"/>
<rect x="163.30" y="330.98" width="28.20" height="100.97" fill="#ffffff"/>
<path d="M164.10 332.92L164.71 332.23M164.10 335.68L167.11 332.23M164.10 338.44L169.51 332.23M164.10 341.20L171.91 332.23M164.10 343.96L174.31 332.23M164.10 346.72L176.71 332.23M164.10 349.48L179.11 332.23M164.10 352.24L181.51 332.23M164.10 355.00L183.91 332.23M164.10 357.76L186.31 332.23M164.10 360.52L188.71 332.23M164.10 363.28L190.70 332.69M164.10 366.04L190.70 335.45M164.10 368.80L190.70 338.21M164.10 371.56L190.70 340.97M164.10 374.32L190.70 343.73M164.10 377.08L190.70 346.49M164.10 379.84L190.70 349.25M164.10 382.60L190.70 352.01M164.10 385.36L190.70 354.77M164.10 388.12L190.70 357.53M164.10 390.88L190.70 360.29M164.10 393.64L190.70 363.05M164.10 396.40L190.70 365.81M164.10 399.16L190.70 368.57M164.10 401.93L190.70 371.33M164.10 404.68L190.70 374.09M164.10 407.44L190.70 376.85M164.10 410.20L190.70 379.61M164.10 412.96L190.70 382.37M164.10 415.73L190.70 385.13M164.10 418.48L190.70 387.89M164.10 421.24L190.70 390.65M164.10 424.00L190.70 393.41M164.10 426.76L190.70 396.17M164.10 429.52L190.70 398.93M164.39 431.95L190.70 401.69M166.79 431.95L190.70 404.45M169.19 431.95L190.70 407.21M171.59 431.95L190.70 409.97M173.99 431.95L190.70 412.73M176.39 431.95L190.70 415.49M178.79 431.95L190.70 418.25M181.19 431.95L190.70 421.01M183.59 431.95L190.70 423.77M185.99 431.95L190.70 426.53M188.39 431.95L190.70 429.29" stroke="#484848" stroke-width="0.56" fill="none"/>
<path fill-rule="evenodd" fill="#000" d="M162.80 330.48H192.00V431.95H162.80ZM164.40 332.53H190.40V431.95H164.40Z"/>
<path d="M177.40 330.98V316.60" stroke="#000" stroke-width="1.7" fill="none"/>
<path d="M170.50 316.60H184.30" stroke="#000" stroke-width="2.1" fill="none" stroke-linecap="round"/>
<path d="M177.40 431.95V437.20" stroke="#000" stroke-width="1.4"/>
<rect x="204.45" y="327.78" width="28.20" height="104.17" fill="#ffffff"/>
<path d="M205.25 329.76L205.89 329.03M205.25 332.52L208.29 329.03M205.25 335.28L210.69 329.03M205.25 338.04L213.09 329.03M205.25 340.80L215.49 329.03M205.25 343.56L217.89 329.03M205.25 346.32L220.29 329.03M205.25 349.08L222.69 329.03M205.25 351.84L225.09 329.03M205.25 354.60L227.49 329.03M205.25 357.36L229.89 329.03M205.25 360.12L231.85 329.53M205.25 362.88L231.85 332.29M205.25 365.64L231.85 335.05M205.25 368.40L231.85 337.81M205.25 371.16L231.85 340.57M205.25 373.92L231.85 343.33M205.25 376.68L231.85 346.09M205.25 379.44L231.85 348.85M205.25 382.20L231.85 351.61M205.25 384.96L231.85 354.37M205.25 387.72L231.85 357.13M205.25 390.48L231.85 359.89M205.25 393.24L231.85 362.65M205.25 396.00L231.85 365.41M205.25 398.76L231.85 368.17M205.25 401.52L231.85 370.93M205.25 404.28L231.85 373.69M205.25 407.04L231.85 376.45M205.25 409.80L231.85 379.21M205.25 412.56L231.85 381.97M205.25 415.32L231.85 384.73M205.25 418.08L231.85 387.49M205.25 420.84L231.85 390.25M205.25 423.60L231.85 393.01M205.25 426.36L231.85 395.77M205.25 429.12L231.85 398.53M205.25 431.88L231.85 401.29M207.59 431.95L231.85 404.05M209.99 431.95L231.85 406.81M212.39 431.95L231.85 409.57M214.79 431.95L231.85 412.33M217.19 431.95L231.85 415.09M219.59 431.95L231.85 417.85M221.99 431.95L231.85 420.61M224.39 431.95L231.85 423.37M226.79 431.95L231.85 426.13M229.19 431.95L231.85 428.89M231.59 431.95L231.85 431.65" stroke="#484848" stroke-width="0.56" fill="none"/>
<path fill-rule="evenodd" fill="#000" d="M203.95 327.28H233.15V431.95H203.95ZM205.55 329.33H231.55V431.95H205.55Z"/>
<path d="M218.55 327.78V315.30" stroke="#000" stroke-width="1.7" fill="none"/>
<path d="M211.65 315.30H225.45" stroke="#000" stroke-width="2.1" fill="none" stroke-linecap="round"/>
<path d="M218.55 431.95V437.20" stroke="#000" stroke-width="1.4"/>
<rect x="245.60" y="320.48" width="28.20" height="111.47" fill="#ffffff"/>
<path d="M246.40 323.84L248.24 321.73M246.40 326.60L250.64 321.73M246.40 329.36L253.04 321.73M246.40 332.12L255.44 321.73M246.40 334.88L257.84 321.73M246.40 337.64L260.24 321.73M246.40 340.40L262.64 321.73M246.40 343.16L265.04 321.73M246.40 345.92L267.44 321.73M246.40 348.68L269.84 321.73M246.40 351.44L272.24 321.73M246.40 354.20L273.00 323.61M246.40 356.96L273.00 326.37M246.40 359.72L273.00 329.13M246.40 362.48L273.00 331.89M246.40 365.24L273.00 334.65M246.40 368.00L273.00 337.41M246.40 370.76L273.00 340.17M246.40 373.52L273.00 342.93M246.40 376.28L273.00 345.69M246.40 379.04L273.00 348.45M246.40 381.80L273.00 351.21M246.40 384.56L273.00 353.97M246.40 387.32L273.00 356.73M246.40 390.08L273.00 359.49M246.40 392.84L273.00 362.25M246.40 395.60L273.00 365.01M246.40 398.36L273.00 367.77M246.40 401.12L273.00 370.53M246.40 403.88L273.00 373.29M246.40 406.64L273.00 376.05M246.40 409.40L273.00 378.81M246.40 412.16L273.00 381.57M246.40 414.92L273.00 384.33M246.40 417.68L273.00 387.09M246.40 420.44L273.00 389.85M246.40 423.20L273.00 392.61M246.40 425.96L273.00 395.37M246.40 428.72L273.00 398.13M246.40 431.48L273.00 400.89M248.39 431.95L273.00 403.65M250.79 431.95L273.00 406.41M253.19 431.95L273.00 409.17M255.59 431.95L273.00 411.93M257.99 431.95L273.00 414.69M260.39 431.95L273.00 417.45M262.79 431.95L273.00 420.21M265.19 431.95L273.00 422.97M267.59 431.95L273.00 425.73M269.99 431.95L273.00 428.49M272.39 431.95L273.00 431.25" stroke="#484848" stroke-width="0.56" fill="none"/>
<path fill-rule="evenodd" fill="#000" d="M245.10 319.98H274.30V431.95H245.10ZM246.70 322.03H272.70V431.95H246.70Z"/>
<path d="M259.70 320.48V307.50" stroke="#000" stroke-width="1.7" fill="none"/>
<path d="M252.80 307.50H266.60" stroke="#000" stroke-width="2.1" fill="none" stroke-linecap="round"/>
<path d="M259.70 431.95V437.20" stroke="#000" stroke-width="1.4"/>
<path d="M33.70 273.75V433.00" stroke="#000" stroke-width="1.35" fill="none"/>
<path d="M30.10 431.95H280.50" stroke="#000" stroke-width="2.10" fill="none"/>
<text x="25.25" y="433.85" font-size="8.80" font-weight="bold" textLength="3.75" lengthAdjust="spacingAndGlyphs" stroke="#111" stroke-width="0.25">0</text>
<path d="M30.10 392.48H33.70" stroke="#000" stroke-width="1.5"/>
<text x="21.10" y="394.83" font-size="8.80" font-weight="bold" textLength="7.50" lengthAdjust="spacingAndGlyphs" stroke="#111" stroke-width="0.25">50</text>
<path d="M30.10 353.15H33.70" stroke="#000" stroke-width="1.5"/>
<text x="17.35" y="355.50" font-size="8.80" font-weight="bold" textLength="11.25" lengthAdjust="spacingAndGlyphs" stroke="#111" stroke-width="0.25">100</text>
<path d="M30.10 313.83H33.70" stroke="#000" stroke-width="1.5"/>
<text x="17.35" y="316.18" font-size="8.80" font-weight="bold" textLength="11.25" lengthAdjust="spacingAndGlyphs" stroke="#111" stroke-width="0.25">150</text>
<path d="M30.10 274.50H33.70" stroke="#000" stroke-width="1.5"/>
<text x="17.35" y="276.85" font-size="8.80" font-weight="bold" textLength="11.25" lengthAdjust="spacingAndGlyphs" stroke="#111" stroke-width="0.25">200</text>
<text x="41.50" y="444.45" font-size="8.30" font-weight="bold" textLength="25.10" lengthAdjust="spacingAndGlyphs" stroke="#111" stroke-width="0.3">Control</text>
<text x="90.50" y="444.45" font-size="8.30" font-weight="bold" textLength="10.00" lengthAdjust="spacingAndGlyphs" stroke="#111" stroke-width="0.3">CP</text>
<text x="115.90" y="444.45" font-size="8.30" font-weight="bold" textLength="40.90" lengthAdjust="spacingAndGlyphs" stroke="#111" stroke-width="0.3">YHC-T-2105</text>
<text x="173.30" y="444.45" font-size="8.30" font-weight="bold" textLength="8.20" lengthAdjust="spacingAndGlyphs" stroke="#111" stroke-width="0.3">50</text>
<text x="210.40" y="444.45" font-size="8.30" font-weight="bold" textLength="14.40" lengthAdjust="spacingAndGlyphs" stroke="#111" stroke-width="0.3">62.5</text>
<text x="253.70" y="444.45" font-size="8.30" font-weight="bold" textLength="11.80" lengthAdjust="spacingAndGlyphs" stroke="#111" stroke-width="0.3">100</text>
<text x="277.60" y="444.65" font-size="8.30" font-weight="bold" textLength="24.30" lengthAdjust="spacingAndGlyphs" stroke="#111" stroke-width="0.3">(mg/kg</text>
<text x="305.20" y="444.65" font-size="8.30" font-weight="bold" textLength="27.40" lengthAdjust="spacingAndGlyphs" stroke="#111" stroke-width="0.3">BW/day)</text>
<path d="M163.80 450.50H273.80" stroke="#777" stroke-width="1"/>
<text x="202.70" y="462.60" font-size="8.30" font-weight="bold" textLength="27.60" lengthAdjust="spacingAndGlyphs" stroke="#111" stroke-width="0.3">YC-1101</text>
<text x="95.50" y="338.50" font-size="8.5" text-anchor="middle" fill="#2a2a2a">#</text>
<text x="259.20" y="301.20" font-size="7" text-anchor="middle" fill="#333">*</text>
<text transform="translate(9.10 382.90) rotate(-90) scale(1,1.14)" font-size="8.1" font-weight="bold" textLength="16.50" lengthAdjust="spacing" stroke="#111" stroke-width="0.2">IL-2</text>
<text transform="translate(9.10 362.30) rotate(-90) scale(1,1.14)" font-size="8.1" font-weight="bold" textLength="37.70" lengthAdjust="spacing" stroke="#111" stroke-width="0.2">(pg/mL)</text>
</g>
<g id="panelD">
<text x="358.70" y="253.60" font-size="16" font-weight="bold" fill="#000" stroke="#000" stroke-width="0.28">(D)</text>
<path fill-rule="evenodd" fill="#000" d="M386.55 296.08H415.75V431.50H386.55ZM388.15 298.13H414.15V431.50H388.15Z"/>
<path d="M401.15 296.58V285.80" stroke="#000" stroke-width="1.7" fill="none"/>
<path d="M394.25 285.80H408.05" stroke="#000" stroke-width="2.1" fill="none" stroke-linecap="round"/>
<path d="M401.15 431.50V436.10" stroke="#000" stroke-width="1.4"/>
<rect x="427.90" y="325.48" width="28.90" height="106.02" fill="#060606"/>
<path d="M429.50 331.00H455.20M429.50 334.10H455.20M429.50 337.20H455.20M429.50 340.30H455.20M429.50 343.40H455.20M429.50 346.50H455.20M429.50 349.60H455.20M429.50 352.70H455.20M429.50 355.80H455.20M429.50 358.90H455.20M429.50 362.00H455.20M429.50 365.10H455.20M429.50 368.20H455.20M429.50 371.30H455.20M429.50 374.40H455.20M429.50 377.50H455.20M429.50 380.60H455.20M429.50 383.70H455.20M429.50 386.80H455.20M429.50 389.90H455.20M429.50 393.00H455.20M429.50 396.10H455.20M429.50 399.20H455.20M429.50 402.30H455.20M429.50 405.40H455.20M429.50 408.50H455.20M429.50 411.60H455.20M429.50 414.70H455.20M429.50 417.80H455.20M429.50 420.90H455.20M429.50 424.00H455.20M429.50 427.10H455.20M429.50 430.20H455.20" stroke="#fff" stroke-width="0.72" fill="none"/>
<path d="M435.12 327.53V327.90M440.38 327.53V327.90M445.62 327.53V327.90M450.88 327.53V327.90M432.50 327.90V331.00M437.75 327.90V331.00M443.00 327.90V331.00M448.25 327.90V331.00M453.50 327.90V331.00M435.12 331.00V334.10M440.38 331.00V334.10M445.62 331.00V334.10M450.88 331.00V334.10M432.50 334.10V337.20M437.75 334.10V337.20M443.00 334.10V337.20M448.25 334.10V337.20M453.50 334.10V337.20M435.12 337.20V340.30M440.38 337.20V340.30M445.62 337.20V340.30M450.88 337.20V340.30M432.50 340.30V343.40M437.75 340.30V343.40M443.00 340.30V343.40M448.25 340.30V343.40M453.50 340.30V343.40M435.12 343.40V346.50M440.38 343.40V346.50M445.62 343.40V346.50M450.88 343.40V346.50M432.50 346.50V349.60M437.75 346.50V349.60M443.00 346.50V349.60M448.25 346.50V349.60M453.50 346.50V349.60M435.12 349.60V352.70M440.38 349.60V352.70M445.62 349.60V352.70M450.88 349.60V352.70M432.50 352.70V355.80M437.75 352.70V355.80M443.00 352.70V355.80M448.25 352.70V355.80M453.50 352.70V355.80M435.12 355.80V358.90M440.38 355.80V358.90M445.62 355.80V358.90M450.88 355.80V358.90M432.50 358.90V362.00M437.75 358.90V362.00M443.00 358.90V362.00M448.25 358.90V362.00M453.50 358.90V362.00M435.12 362.00V365.10M440.38 362.00V365.10M445.62 362.00V365.10M450.88 362.00V365.10M432.50 365.10V368.20M437.75 365.10V368.20M443.00 365.10V368.20M448.25 365.10V368.20M453.50 365.10V368.20M435.12 368.20V371.30M440.38 368.20V371.30M445.62 368.20V371.30M450.88 368.20V371.30M432.50 371.30V374.40M437.75 371.30V374.40M443.00 371.30V374.40M448.25 371.30V374.40M453.50 371.30V374.40M435.12 374.40V377.50M440.38 374.40V377.50M445.62 374.40V377.50M450.88 374.40V377.50M432.50 377.50V380.60M437.75 377.50V380.60M443.00 377.50V380.60M448.25 377.50V380.60M453.50 377.50V380.60M435.12 380.60V383.70M440.38 380.60V383.70M445.62 380.60V383.70M450.88 380.60V383.70M432.50 383.70V386.80M437.75 383.70V386.80M443.00 383.70V386.80M448.25 383.70V386.80M453.50 383.70V386.80M435.12 386.80V389.90M440.38 386.80V389.90M445.62 386.80V389.90M450.88 386.80V389.90M432.50 389.90V393.00M437.75 389.90V393.00M443.00 389.90V393.00M448.25 389.90V393.00M453.50 389.90V393.00M435.12 393.00V396.10M440.38 393.00V396.10M445.62 393.00V396.10M450.88 393.00V396.10M432.50 396.10V399.20M437.75 396.10V399.20M443.00 396.10V399.20M448.25 396.10V399.20M453.50 396.10V399.20M435.12 399.20V402.30M440.38 399.20V402.30M445.62 399.20V402.30M450.88 399.20V402.30M432.50 402.30V405.40M437.75 402.30V405.40M443.00 402.30V405.40M448.25 402.30V405.40M453.50 402.30V405.40M435.12 405.40V408.50M440.38 405.40V408.50M445.62 405.40V408.50M450.88 405.40V408.50M432.50 408.50V411.60M437.75 408.50V411.60M443.00 408.50V411.60M448.25 408.50V411.60M453.50 408.50V411.60M435.12 411.60V414.70M440.38 411.60V414.70M445.62 411.60V414.70M450.88 411.60V414.70M432.50 414.70V417.80M437.75 414.70V417.80M443.00 414.70V417.80M448.25 414.70V417.80M453.50 414.70V417.80M435.12 417.80V420.90M440.38 417.80V420.90M445.62 417.80V420.90M450.88 417.80V420.90M432.50 420.90V424.00M437.75 420.90V424.00M443.00 420.90V424.00M448.25 420.90V424.00M453.50 420.90V424.00M435.12 424.00V427.10M440.38 424.00V427.10M445.62 424.00V427.10M450.88 424.00V427.10M432.50 427.10V430.20M437.75 427.10V430.20M443.00 427.10V430.20M448.25 427.10V430.20M453.50 427.10V430.20M435.12 430.20V431.50M440.38 430.20V431.50M445.62 430.20V431.50M450.88 430.20V431.50" stroke="#fff" stroke-width="0.6" fill="none"/>
<path fill-rule="evenodd" fill="#000" d="M427.90 325.48H456.80V431.50H427.90ZM429.50 327.53H455.20V431.50H429.50Z"/>
<path d="M442.35 325.98V321.60" stroke="#000" stroke-width="1.7" fill="none"/>
<path d="M435.45 321.60H449.25" stroke="#000" stroke-width="2.1" fill="none" stroke-linecap="round"/>
<path d="M442.35 431.50V436.10" stroke="#000" stroke-width="1.4"/>
<path d="M470.55 424.13L476.35 431.50M470.55 415.62L483.05 431.50M470.55 407.11L489.75 431.50M470.55 398.60L496.45 431.50M470.55 390.09L497.15 423.88M470.55 381.58L497.15 415.37M470.55 373.08L497.15 406.86M470.55 364.57L497.15 398.35M470.55 356.06L497.15 389.84M470.55 347.55L497.15 381.33M470.55 339.04L497.15 372.82M470.55 330.53L497.15 364.31M470.55 322.02L497.15 355.80M472.37 315.83L497.15 347.29M479.07 315.83L497.15 338.79M485.77 315.83L497.15 330.28M492.47 315.83L497.15 321.77" stroke="#111" stroke-width="1.28" fill="none"/>
<path fill-rule="evenodd" fill="#000" d="M469.25 314.08H498.45V431.50H469.25ZM470.85 316.13H496.85V431.50H470.85Z"/>
<path d="M483.85 314.58V310.80" stroke="#000" stroke-width="1.7" fill="none"/>
<path d="M476.95 310.80H490.75" stroke="#000" stroke-width="2.1" fill="none" stroke-linecap="round"/>
<path d="M483.85 431.50V436.10" stroke="#000" stroke-width="1.4"/>
<rect x="511.35" y="318.88" width="28.20" height="112.62" fill="#ffffff"/>
<path d="M512.15 321.83L513.63 320.12M512.15 324.59L516.03 320.12M512.15 327.35L518.43 320.12M512.15 330.11L520.83 320.12M512.15 332.87L523.23 320.12M512.15 335.63L525.63 320.12M512.15 338.39L528.03 320.12M512.15 341.15L530.43 320.12M512.15 343.91L532.83 320.12M512.15 346.67L535.23 320.12M512.15 349.43L537.63 320.12M512.15 352.19L538.75 321.60M512.15 354.95L538.75 324.36M512.15 357.71L538.75 327.12M512.15 360.47L538.75 329.88M512.15 363.23L538.75 332.64M512.15 365.99L538.75 335.40M512.15 368.75L538.75 338.16M512.15 371.51L538.75 340.92M512.15 374.27L538.75 343.68M512.15 377.03L538.75 346.44M512.15 379.79L538.75 349.20M512.15 382.55L538.75 351.96M512.15 385.31L538.75 354.72M512.15 388.07L538.75 357.48M512.15 390.83L538.75 360.24M512.15 393.59L538.75 363.00M512.15 396.35L538.75 365.76M512.15 399.11L538.75 368.52M512.15 401.87L538.75 371.28M512.15 404.63L538.75 374.04M512.15 407.39L538.75 376.80M512.15 410.15L538.75 379.56M512.15 412.91L538.75 382.32M512.15 415.67L538.75 385.08M512.15 418.43L538.75 387.84M512.15 421.19L538.75 390.60M512.15 423.95L538.75 393.36M512.15 426.71L538.75 396.12M512.15 429.47L538.75 398.88M512.78 431.50L538.75 401.64M515.18 431.50L538.75 404.40M517.58 431.50L538.75 407.16M519.98 431.50L538.75 409.92M522.38 431.50L538.75 412.68M524.78 431.50L538.75 415.44M527.18 431.50L538.75 418.20M529.58 431.50L538.75 420.96M531.98 431.50L538.75 423.72M534.38 431.50L538.75 426.48M536.78 431.50L538.75 429.24" stroke="#484848" stroke-width="0.56" fill="none"/>
<path fill-rule="evenodd" fill="#000" d="M510.85 318.38H540.05V431.50H510.85ZM512.45 320.43H538.45V431.50H512.45Z"/>
<path d="M525.45 318.88V313.90" stroke="#000" stroke-width="1.7" fill="none"/>
<path d="M518.55 313.90H532.35" stroke="#000" stroke-width="2.1" fill="none" stroke-linecap="round"/>
<path d="M525.45 431.50V436.10" stroke="#000" stroke-width="1.4"/>
<rect x="552.75" y="315.08" width="28.20" height="116.42" fill="#ffffff"/>
<path d="M553.55 318.38L555.33 316.33M553.55 321.14L557.73 316.33M553.55 323.90L560.13 316.33M553.55 326.66L562.53 316.33M553.55 329.42L564.93 316.33M553.55 332.18L567.33 316.33M553.55 334.94L569.73 316.33M553.55 337.70L572.13 316.33M553.55 340.46L574.53 316.33M553.55 343.22L576.93 316.33M553.55 345.98L579.33 316.33M553.55 348.74L580.15 318.15M553.55 351.50L580.15 320.91M553.55 354.26L580.15 323.67M553.55 357.02L580.15 326.43M553.55 359.78L580.15 329.19M553.55 362.54L580.15 331.95M553.55 365.30L580.15 334.71M553.55 368.06L580.15 337.47M553.55 370.82L580.15 340.23M553.55 373.58L580.15 342.99M553.55 376.34L580.15 345.75M553.55 379.10L580.15 348.51M553.55 381.86L580.15 351.27M553.55 384.62L580.15 354.03M553.55 387.38L580.15 356.79M553.55 390.14L580.15 359.55M553.55 392.90L580.15 362.31M553.55 395.66L580.15 365.07M553.55 398.42L580.15 367.83M553.55 401.18L580.15 370.59M553.55 403.94L580.15 373.35M553.55 406.70L580.15 376.11M553.55 409.46L580.15 378.87M553.55 412.22L580.15 381.63M553.55 414.98L580.15 384.39M553.55 417.74L580.15 387.15M553.55 420.50L580.15 389.91M553.55 423.26L580.15 392.67M553.55 426.02L580.15 395.43M553.55 428.78L580.15 398.19M553.58 431.50L580.15 400.95M555.98 431.50L580.15 403.71M558.38 431.50L580.15 406.47M560.78 431.50L580.15 409.23M563.18 431.50L580.15 411.99M565.58 431.50L580.15 414.75M567.98 431.50L580.15 417.51M570.38 431.50L580.15 420.27M572.78 431.50L580.15 423.03M575.18 431.50L580.15 425.79M577.58 431.50L580.15 428.55M579.98 431.50L580.15 431.31" stroke="#484848" stroke-width="0.56" fill="none"/>
<path fill-rule="evenodd" fill="#000" d="M552.25 314.58H581.45V431.50H552.25ZM553.85 316.63H579.85V431.50H553.85Z"/>
<path d="M566.85 315.08V304.80" stroke="#000" stroke-width="1.7" fill="none"/>
<path d="M559.95 304.80H573.75" stroke="#000" stroke-width="2.1" fill="none" stroke-linecap="round"/>
<path d="M566.85 431.50V436.10" stroke="#000" stroke-width="1.4"/>
<rect x="594.50" y="305.28" width="28.20" height="126.22" fill="#ffffff"/>
<path d="M595.30 309.00L597.46 306.53M595.30 311.76L599.86 306.53M595.30 314.52L602.26 306.53M595.30 317.28L604.66 306.53M595.30 320.04L607.06 306.53M595.30 322.80L609.46 306.53M595.30 325.56L611.86 306.53M595.30 328.32L614.26 306.53M595.30 331.08L616.66 306.53M595.30 333.84L619.06 306.53M595.30 336.60L621.46 306.53M595.30 339.36L621.90 308.77M595.30 342.12L621.90 311.53M595.30 344.88L621.90 314.29M595.30 347.64L621.90 317.06M595.30 350.40L621.90 319.81M595.30 353.16L621.90 322.57M595.30 355.92L621.90 325.33M595.30 358.68L621.90 328.09M595.30 361.44L621.90 330.86M595.30 364.20L621.90 333.62M595.30 366.96L621.90 336.37M595.30 369.72L621.90 339.13M595.30 372.48L621.90 341.89M595.30 375.24L621.90 344.65M595.30 378.00L621.90 347.41M595.30 380.76L621.90 350.17M595.30 383.52L621.90 352.93M595.30 386.28L621.90 355.69M595.30 389.04L621.90 358.45M595.30 391.80L621.90 361.21M595.30 394.56L621.90 363.97M595.30 397.32L621.90 366.73M595.30 400.08L621.90 369.49M595.30 402.84L621.90 372.25M595.30 405.60L621.90 375.01M595.30 408.36L621.90 377.77M595.30 411.12L621.90 380.53M595.30 413.88L621.90 383.29M595.30 416.64L621.90 386.05M595.30 419.40L621.90 388.81M595.30 422.16L621.90 391.57M595.30 424.92L621.90 394.33M595.30 427.68L621.90 397.09M595.30 430.44L621.90 399.85M596.78 431.50L621.90 402.61M599.18 431.50L621.90 405.37M601.58 431.50L621.90 408.13M603.98 431.50L621.90 410.89M606.38 431.50L621.90 413.65M608.78 431.50L621.90 416.41M611.18 431.50L621.90 419.17M613.58 431.50L621.90 421.93M615.98 431.50L621.90 424.69M618.38 431.50L621.90 427.45M620.78 431.50L621.90 430.21" stroke="#484848" stroke-width="0.56" fill="none"/>
<path fill-rule="evenodd" fill="#000" d="M594.00 304.78H623.20V431.50H594.00ZM595.60 306.83H621.60V431.50H595.60Z"/>
<path d="M608.60 305.28V297.00" stroke="#000" stroke-width="1.7" fill="none"/>
<path d="M601.70 297.00H615.50" stroke="#000" stroke-width="2.1" fill="none" stroke-linecap="round"/>
<path d="M608.60 431.50V436.10" stroke="#000" stroke-width="1.4"/>
<path d="M380.50 272.95V432.55" stroke="#000" stroke-width="1.35" fill="none"/>
<path d="M376.00 431.50H629.80" stroke="#000" stroke-width="2.10" fill="none"/>
<text x="371.25" y="433.30" font-size="8.80" font-weight="bold" textLength="3.75" lengthAdjust="spacingAndGlyphs" stroke="#111" stroke-width="0.25">0</text>
<path d="M376.90 378.70H380.50" stroke="#000" stroke-width="1.5"/>
<text x="367.50" y="381.40" font-size="8.80" font-weight="bold" textLength="7.50" lengthAdjust="spacingAndGlyphs" stroke="#111" stroke-width="0.25">20</text>
<path d="M376.90 326.20H380.50" stroke="#000" stroke-width="1.5"/>
<text x="367.50" y="328.90" font-size="8.80" font-weight="bold" textLength="7.50" lengthAdjust="spacingAndGlyphs" stroke="#111" stroke-width="0.25">40</text>
<path d="M376.90 273.70H380.50" stroke="#000" stroke-width="1.5"/>
<text x="367.50" y="276.40" font-size="8.80" font-weight="bold" textLength="7.50" lengthAdjust="spacingAndGlyphs" stroke="#111" stroke-width="0.25">60</text>
<text x="387.70" y="444.40" font-size="8.30" font-weight="bold" textLength="25.70" lengthAdjust="spacingAndGlyphs" stroke="#111" stroke-width="0.3">Control</text>
<text x="438.00" y="444.40" font-size="8.30" font-weight="bold" textLength="9.30" lengthAdjust="spacingAndGlyphs" stroke="#111" stroke-width="0.3">CP</text>
<text x="463.20" y="444.40" font-size="8.30" font-weight="bold" textLength="41.10" lengthAdjust="spacingAndGlyphs" stroke="#111" stroke-width="0.3">YHC-T-2105</text>
<text x="521.80" y="444.40" font-size="8.30" font-weight="bold" textLength="7.50" lengthAdjust="spacingAndGlyphs" stroke="#111" stroke-width="0.3">50</text>
<text x="559.50" y="444.40" font-size="8.30" font-weight="bold" textLength="14.60" lengthAdjust="spacingAndGlyphs" stroke="#111" stroke-width="0.3">62.5</text>
<text x="603.50" y="444.40" font-size="8.30" font-weight="bold" textLength="11.30" lengthAdjust="spacingAndGlyphs" stroke="#111" stroke-width="0.3">100</text>
<text x="626.90" y="444.60" font-size="8.30" font-weight="bold" textLength="24.30" lengthAdjust="spacingAndGlyphs" stroke="#111" stroke-width="0.3">(mg/kg</text>
<text x="654.50" y="444.60" font-size="8.30" font-weight="bold" textLength="29.20" lengthAdjust="spacingAndGlyphs" stroke="#111" stroke-width="0.3">BW/day)</text>
<path d="M511.00 449.80H623.60" stroke="#777" stroke-width="1"/>
<text x="551.20" y="462.40" font-size="8.30" font-weight="bold" textLength="27.60" lengthAdjust="spacingAndGlyphs" stroke="#111" stroke-width="0.3">YC-1101</text>
<text x="442.20" y="313.40" font-size="8.5" text-anchor="middle" fill="#2a2a2a">#</text>
<text transform="translate(358.90 382.90) rotate(-90) scale(1,1.14)" font-size="8.1" font-weight="bold" textLength="16.50" lengthAdjust="spacing" stroke="#111" stroke-width="0.2">IL-6</text>
<text transform="translate(358.90 361.40) rotate(-90) scale(1,1.14)" font-size="8.1" font-weight="bold" textLength="37.60" lengthAdjust="spacing" stroke="#111" stroke-width="0.2">(pg/mL)</text>
</g>
</svg>
</body></html>
